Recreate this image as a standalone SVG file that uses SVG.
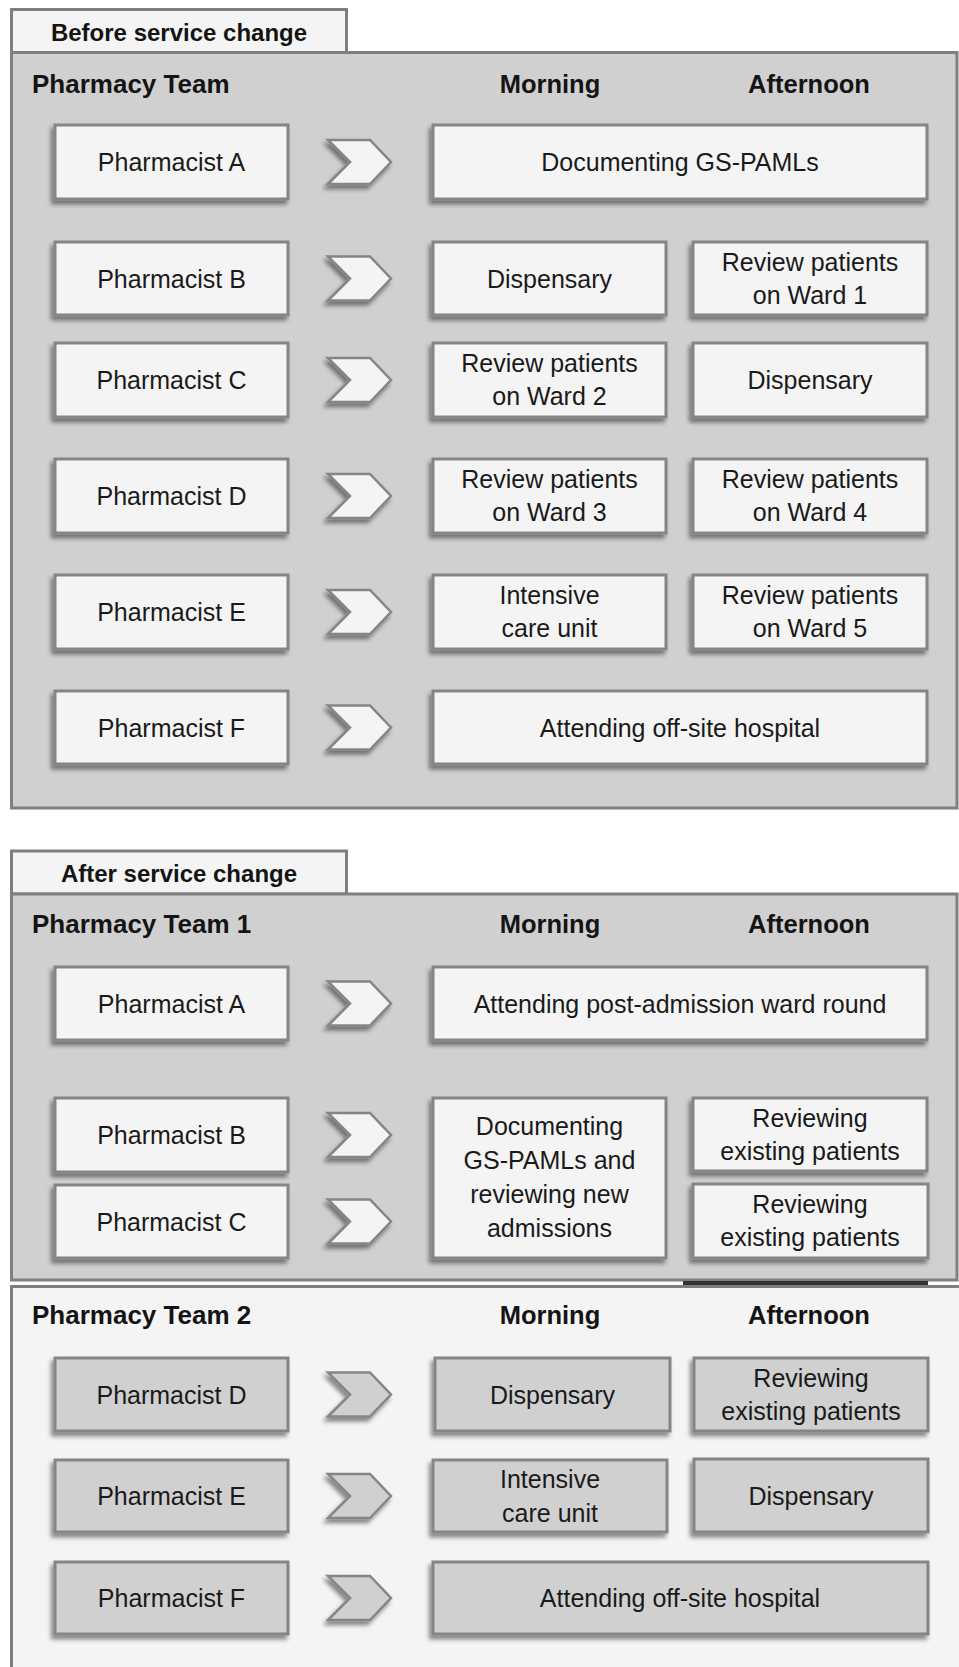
<svg xmlns="http://www.w3.org/2000/svg" width="959" height="1667" viewBox="0 0 959 1667">
<defs>
<filter id="sh" x="-10%" y="-20%" width="120%" height="150%">
<feDropShadow dx="-2.5" dy="4" stdDeviation="2" flood-color="#000" flood-opacity="0.45"/>
</filter>
<style>
.panel{fill:#d0d0d0;stroke:#7f7f7f;stroke-width:3}
.panel2{fill:#f4f4f4;stroke:#7f7f7f;stroke-width:3}
.tab{fill:#f4f4f4;stroke:#7f7f7f;stroke-width:3}
.box{fill:#f4f4f4;stroke:#858585;stroke-width:3;filter:url(#sh)}
.box2{fill:#d0d0d0;stroke:#858585;stroke-width:3;filter:url(#sh)}
.chev{fill:#f4f4f4;stroke:#858585;stroke-width:2.5;stroke-linejoin:miter;filter:url(#sh)}
.chev2{fill:#d0d0d0;stroke:#858585;stroke-width:2.5;stroke-linejoin:miter;filter:url(#sh)}
.t{font-family:"Liberation Sans",Arial,sans-serif;font-size:25px;fill:#1a1a1a;text-anchor:middle}
.h{font-family:"Liberation Sans",Arial,sans-serif;font-size:24px;font-weight:bold;fill:#141414}
.tt{font-size:26px}
.ch{font-size:25.5px}
.c{text-anchor:middle}
</style>
</defs>

<!-- BEFORE -->
<g id="before-tab"><rect class="tab" x="11.5" y="9.5" width="335" height="43"/><text class="h c" x="179" y="41">Before service change</text></g>
<g id="before-panel"><rect class="panel" x="11.5" y="52.5" width="945.5" height="755.5"/>
<text class="h tt" x="32" y="93">Pharmacy Team</text>
<text class="h ch c" x="550" y="93">Morning</text>
<text class="h ch c" x="809" y="93">Afternoon</text></g>

<g id="b-pa"><rect class="box" x="55" y="125" width="233" height="74"/><text class="t" x="171.5" y="171">Pharmacist A</text></g>
<g id="b-pa-act"><rect class="box" x="433" y="125" width="494" height="74"/><text class="t" x="680" y="171">Documenting GS-PAMLs</text></g>

<g id="b-pb"><rect class="box" x="55" y="242" width="233" height="73"/><text class="t" x="171.5" y="287.5">Pharmacist B</text></g>
<g id="b-pb-am"><rect class="box" x="433" y="242" width="233" height="73"/><text class="t" x="549.5" y="287.5">Dispensary</text></g>
<g id="b-pb-pm"><rect class="box" x="693" y="242" width="234" height="73"/><text class="t" x="810" y="271">Review patients<tspan x="810" dy="33">on Ward 1</tspan></text></g>

<g id="b-pc"><rect class="box" x="55" y="343" width="233" height="74"/><text class="t" x="171.5" y="389">Pharmacist C</text></g>
<g id="b-pc-am"><rect class="box" x="433" y="343" width="233" height="74"/><text class="t" x="549.5" y="372">Review patients<tspan x="549.5" dy="33">on Ward 2</tspan></text></g>
<g id="b-pc-pm"><rect class="box" x="693" y="343" width="234" height="74"/><text class="t" x="810" y="389">Dispensary</text></g>

<g id="b-pd"><rect class="box" x="55" y="459" width="233" height="74"/><text class="t" x="171.5" y="505">Pharmacist D</text></g>
<g id="b-pd-am"><rect class="box" x="433" y="459" width="233" height="74"/><text class="t" x="549.5" y="488">Review patients<tspan x="549.5" dy="33">on Ward 3</tspan></text></g>
<g id="b-pd-pm"><rect class="box" x="693" y="459" width="234" height="74"/><text class="t" x="810" y="488">Review patients<tspan x="810" dy="33">on Ward 4</tspan></text></g>

<g id="b-pe"><rect class="box" x="55" y="575" width="233" height="74"/><text class="t" x="171.5" y="621">Pharmacist E</text></g>
<g id="b-pe-am"><rect class="box" x="433" y="575" width="233" height="74"/><text class="t" x="549.5" y="604">Intensive<tspan x="549.5" dy="33">care unit</tspan></text></g>
<g id="b-pe-pm"><rect class="box" x="693" y="575" width="234" height="74"/><text class="t" x="810" y="604">Review patients<tspan x="810" dy="33">on Ward 5</tspan></text></g>

<g id="b-pf"><rect class="box" x="55" y="691" width="233" height="73"/><text class="t" x="171.5" y="736.5">Pharmacist F</text></g>
<g id="b-pf-act"><rect class="box" x="433" y="691" width="494" height="73"/><text class="t" x="680" y="736.5">Attending off-site hospital</text></g>

<!-- AFTER -->
<g id="after-tab"><rect class="tab" x="11.5" y="851" width="335" height="43"/><text class="h c" x="179" y="882">After service change</text></g>
<g id="team1-panel"><rect class="panel" x="11.5" y="894" width="945.5" height="386"/>
<text class="h tt" x="32" y="933">Pharmacy Team 1</text>
<text class="h ch c" x="550" y="933">Morning</text>
<text class="h ch c" x="809" y="933">Afternoon</text></g>
<g id="team2-panel"><rect class="panel2" x="11.5" y="1286.5" width="960" height="400"/>
<line x1="683" y1="1283" x2="928" y2="1283" stroke="#333" stroke-width="4"/>
<text class="h tt" x="32" y="1324">Pharmacy Team 2</text>
<text class="h ch c" x="550" y="1324">Morning</text>
<text class="h ch c" x="809" y="1324">Afternoon</text></g>

<g id="a-pa"><rect class="box" x="55" y="967" width="233" height="73"/><text class="t" x="171.5" y="1012.5">Pharmacist A</text></g>
<g id="a-pa-act"><rect class="box" x="433" y="967" width="494" height="73"/><text class="t" x="680" y="1012.5">Attending post-admission ward round</text></g>

<g id="a-pb"><rect class="box" x="55" y="1098" width="233" height="74"/><text class="t" x="171.5" y="1144">Pharmacist B</text></g>
<g id="a-pc"><rect class="box" x="55" y="1185" width="233" height="73"/><text class="t" x="171.5" y="1230.5">Pharmacist C</text></g>
<g id="a-bc-am"><rect class="box" x="433" y="1098" width="233" height="160"/><text class="t" x="549.5" y="1135">Documenting<tspan x="549.5" dy="34">GS-PAMLs and</tspan><tspan x="549.5" dy="34">reviewing new</tspan><tspan x="549.5" dy="34">admissions</tspan></text></g>
<g id="a-pb-pm"><rect class="box" x="693" y="1098" width="234" height="73"/><text class="t" x="810" y="1127">Reviewing<tspan x="810" dy="33">existing patients</tspan></text></g>
<g id="a-pc-pm"><rect class="box" x="693" y="1184" width="235" height="74"/><text class="t" x="810" y="1213">Reviewing<tspan x="810" dy="33">existing patients</tspan></text></g>

<g id="a-pd"><rect class="box2" x="55" y="1358" width="233" height="73"/><text class="t" x="171.5" y="1403.5">Pharmacist D</text></g>
<g id="a-pd-am"><rect class="box2" x="435" y="1358" width="235" height="73"/><text class="t" x="552.5" y="1403.5">Dispensary</text></g>
<g id="a-pd-pm"><rect class="box2" x="694" y="1358" width="234" height="73"/><text class="t" x="811" y="1387">Reviewing<tspan x="811" dy="33">existing patients</tspan></text></g>

<g id="a-pe"><rect class="box2" x="55" y="1460" width="233" height="72"/><text class="t" x="171.5" y="1505">Pharmacist E</text></g>
<g id="a-pe-am"><rect class="box2" x="433" y="1460" width="234" height="72"/><text class="t" x="550" y="1488">Intensive<tspan x="550" dy="34">care unit</tspan></text></g>
<g id="a-pe-pm"><rect class="box2" x="694" y="1459" width="234" height="73"/><text class="t" x="811" y="1505">Dispensary</text></g>

<g id="a-pf"><rect class="box2" x="55" y="1562" width="233" height="72"/><text class="t" x="171.5" y="1607">Pharmacist F</text></g>
<g id="a-pf-act"><rect class="box2" x="433" y="1562" width="495" height="72"/><text class="t" x="680" y="1607">Attending off-site hospital</text></g>

<!-- connectors (chevrons) -->
<g id="connectors">
<polygon class="chev" points="328,140 370,140 391,162 370,184 328,184 350,162"/>
<polygon class="chev" points="328,256.5 370,256.5 391,278.5 370,300.5 328,300.5 350,278.5"/>
<polygon class="chev" points="328,358 370,358 391,380 370,402 328,402 350,380"/>
<polygon class="chev" points="328,474 370,474 391,496 370,518 328,518 350,496"/>
<polygon class="chev" points="328,590 370,590 391,612 370,634 328,634 350,612"/>
<polygon class="chev" points="328,705.5 370,705.5 391,727.5 370,749.5 328,749.5 350,727.5"/>
<polygon class="chev" points="328,981.5 370,981.5 391,1003.5 370,1025.5 328,1025.5 350,1003.5"/>
<polygon class="chev" points="328,1113 370,1113 391,1135 370,1157 328,1157 350,1135"/>
<polygon class="chev" points="328,1199.5 370,1199.5 391,1221.5 370,1243.5 328,1243.5 350,1221.5"/>
<polygon class="chev2" points="328,1372.5 370,1372.5 391,1394.5 370,1416.5 328,1416.5 350,1394.5"/>
<polygon class="chev2" points="328,1474 370,1474 391,1496 370,1518 328,1518 350,1496"/>
<polygon class="chev2" points="328,1576 370,1576 391,1598 370,1620 328,1620 350,1598"/>
</g>
</svg>
